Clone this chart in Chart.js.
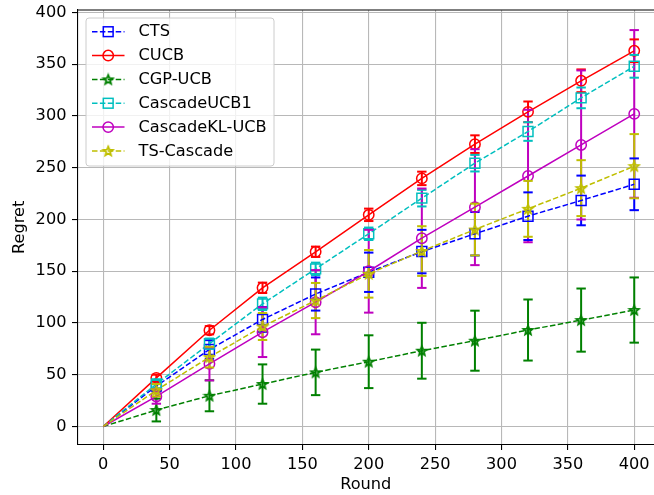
<!DOCTYPE html>
<html><head><meta charset="utf-8">
<script src="https://cdn.jsdelivr.net/npm/chart.js@4.4.0/dist/chart.umd.min.js"></script>
<style>html,body{margin:0;padding:0;background:#fff;overflow:hidden}#wrap{width:654px;height:495px;position:relative}</style>
</head><body><div id="wrap"><canvas id="c" width="654" height="495"></canvas></div>
<script>
// ---- data ----
const rounds = [0, 40, 80, 120, 160, 200, 240, 280, 320, 360, 400];
const xTicks = [0, 50, 100, 150, 200, 250, 300, 350, 400];
const yTicks = [0, 50, 100, 150, 200, 250, 300, 350, 400];
const seriesNames = ['CTS', 'CUCB', 'CGP-UCB', 'CascadeUCB1', 'CascadeKL-UCB', 'TS-Cascade'];

const ctsMean   = [0, 39, 74.4, 103.4, 128, 149, 169, 186.2, 203.2, 218.4, 234];
const ctsErr    = [0, 5, 9, 12, 16, 19, 21, 21, 23, 24, 25];
const cucbMean  = [0, 47, 93, 134, 168.8, 204.5, 239.7, 272.8, 304, 334, 363];
const cucbErr   = [0, 3, 4, 5, 5, 6, 6.5, 8.5, 10, 11, 11];
const cgpMean   = [0, 15.9, 29.7, 41, 52.3, 62.6, 73.2, 82.9, 93.2, 102.8, 112.5];
const cgpErr    = [0, 11, 15, 19, 22, 25.5, 27, 29, 29.5, 30.5, 31.5];
const ucb1Mean  = [0, 41, 80, 118.5, 152.3, 186.2, 220.6, 254.4, 285, 317.5, 348];
const ucb1Err   = [0, 4, 5, 6, 6, 6, 8, 8, 9, 10, 11];
const klMean    = [0, 29, 60.5, 91.1, 120.1, 150, 181.9, 211.9, 242, 272, 302];
const klErr     = [0, 7, 16, 24, 31, 40, 48, 56, 64, 72, 81];
const tsMean    = [0, 35, 67, 96.6, 121.7, 147.5, 169.5, 190.3, 210.3, 230.3, 251.5];
const tsErr     = [0, 6, 10, 13, 17, 23, 24, 25, 27, 27, 31];

// ---- styles ----
const FONT = 'DejaVu Sans';
const FS = 16.2;
const DASH = [5.5, 2.4];

function makeStar(color) {
  const c = document.createElement('canvas');
  c.width = 14; c.height = 14;
  const g = c.getContext('2d');
  g.strokeStyle = color; g.lineWidth = 1.8; g.lineJoin = 'miter';
  g.beginPath();
  const R = 4.8, r = 2.1;
  for (let i = 0; i < 10; i++) {
    const a = -Math.PI / 2 + i * Math.PI / 5;
    const rr = i % 2 === 0 ? R : r;
    const px = 7 + rr * Math.cos(a), py = 7.4 + rr * Math.sin(a);
    if (i === 0) g.moveTo(px, py); else g.lineTo(px, py);
  }
  g.closePath(); g.stroke();
  return c;
}

const specs = [
  {mean: ctsMean,  err: ctsErr,  color: '#0000ff', dash: true,  marker: 'rect'},
  {mean: cucbMean, err: cucbErr, color: '#ff0000', dash: false, marker: 'circle'},
  {mean: cgpMean,  err: cgpErr,  color: '#008000', dash: true,  marker: 'star'},
  {mean: ucb1Mean, err: ucb1Err, color: '#00bfbf', dash: true,  marker: 'rect'},
  {mean: klMean,   err: klErr,   color: '#bf00bf', dash: false, marker: 'circle'},
  {mean: tsMean,   err: tsErr,   color: '#bfbf00', dash: true,  marker: 'star'}
];

const datasets = specs.map((s, k) => {
  const style = s.marker === 'star' ? makeStar(s.color) : s.marker;
  const r = s.marker === 'rect' ? 7 : 5.2;
  return {
    label: seriesNames[k],
    data: rounds.map((x, i) => ({x: x, y: s.mean[i]})),
    errors: s.err,
    borderColor: s.color,
    backgroundColor: 'transparent',
    borderWidth: 1.5,
    borderDash: s.dash ? DASH : [],
    pointStyle: style,
    markerType: s.marker,
    pointRadius: rounds.map(x => x === 0 ? 0 : r),
    pointBorderColor: s.color,
    pointBackgroundColor: 'rgba(0,0,0,0)',
    pointBorderWidth: 1.5,
    tension: 0,
    fill: false,
    order: specs.length - k
  };
});

const errorBarPlugin = {
  id: 'errbars',
  beforeDatasetsDraw(chart) {
    const ctx = chart.ctx, xs = chart.scales.x, ys = chart.scales.y, a = chart.chartArea;
    ctx.save();
    ctx.beginPath(); ctx.rect(a.left, a.top, a.right - a.left, a.bottom - a.top); ctx.clip();
    ctx.setLineDash([]); ctx.lineWidth = 2;
    chart.data.datasets.forEach(ds => {
      ctx.strokeStyle = ds.borderColor;
      ds.data.forEach((p, i) => {
        const e = ds.errors[i]; if (!e) return;
        const x = xs.getPixelForValue(p.x);
        ctx.beginPath();
        ctx.moveTo(x, ys.getPixelForValue(p.y - e));
        ctx.lineTo(x, ys.getPixelForValue(p.y + e));
        ctx.stroke();
      });
    });
    ctx.restore();
  },
  afterDatasetDraw(chart, args) {
    const ds = chart.data.datasets[args.index];
    const ctx = chart.ctx, xs = chart.scales.x, ys = chart.scales.y;
    ctx.save(); ctx.setLineDash([]); ctx.lineWidth = 2; ctx.strokeStyle = ds.borderColor;
    ds.data.forEach((p, i) => {
      const e = ds.errors[i]; if (!e) return;
      const x = xs.getPixelForValue(p.x);
      [p.y - e, p.y + e].forEach(v => {
        const y = ys.getPixelForValue(v);
        ctx.beginPath(); ctx.moveTo(x - 4.7, y); ctx.lineTo(x + 4.7, y); ctx.stroke();
      });
    });
    ctx.restore();
  }
};

function drawMarker(ctx, ds, x, y) {
  ctx.save(); ctx.setLineDash([]); ctx.strokeStyle = ds.borderColor; ctx.lineWidth = 1.5;
  if (ds.markerType === 'star') {
    ctx.drawImage(ds.pointStyle, x - 7, y - 7);
  } else if (ds.markerType === 'rect') {
    ctx.strokeRect(x - 4.9, y - 4.9, 9.8, 9.8);
  } else {
    ctx.beginPath(); ctx.arc(x, y, 5.2, 0, Math.PI * 2); ctx.stroke();
  }
  ctx.restore();
}

const frameLegendPlugin = {
  id: 'frameLegend',
  afterDraw(chart) {
    const ctx = chart.ctx, a = chart.chartArea;
    ctx.save();
    ctx.strokeStyle = '#000'; ctx.lineWidth = 1.1;
    ctx.beginPath(); ctx.moveTo(a.left, a.top); ctx.lineTo(a.right, a.top); ctx.stroke();
    const bx = 86, by = 18, bw = 188, bh = 148, rad = 3;
    ctx.fillStyle = 'rgba(255,255,255,0.8)';
    ctx.strokeStyle = '#cccccc'; ctx.lineWidth = 1;
    ctx.beginPath();
    ctx.moveTo(bx + rad, by); ctx.lineTo(bx + bw - rad, by); ctx.arcTo(bx + bw, by, bx + bw, by + rad, rad);
    ctx.lineTo(bx + bw, by + bh - rad); ctx.arcTo(bx + bw, by + bh, bx + bw - rad, by + bh, rad);
    ctx.lineTo(bx + rad, by + bh); ctx.arcTo(bx, by + bh, bx, by + bh - rad, rad);
    ctx.lineTo(bx, by + rad); ctx.arcTo(bx, by, bx + rad, by, rad);
    ctx.closePath(); ctx.fill(); ctx.stroke();
    ctx.font = FS + 'px "' + FONT + '"';
    ctx.textBaseline = 'middle'; ctx.textAlign = 'left'; ctx.fillStyle = '#000';
    chart.data.datasets.forEach((ds, k) => {
      const y = 31.7 + k * 23.85;
      ctx.save();
      ctx.strokeStyle = ds.borderColor; ctx.lineWidth = 1.5;
      ctx.setLineDash(ds.borderDash || []);
      ctx.beginPath(); ctx.moveTo(92, y); ctx.lineTo(124.5, y); ctx.stroke();
      ctx.restore();
      drawMarker(ctx, ds, 108.2, y);
      ctx.fillStyle = '#000';
      ctx.fillText(ds.label, 138.5, y + 0.5);
    });
    ctx.restore();
  }
};

const gridCfg = {color: '#b8b8b8', lineWidth: 1.1, tickColor: '#000', tickLength: 5.5, drawTicks: true};

new Chart(document.getElementById('c'), {
  type: 'line',
  data: {datasets: datasets},
  options: {
    responsive: false,
    animation: false,
    devicePixelRatio: 1,
    layout: {autoPadding: false, padding: {top: 10, left: 0, right: 0, bottom: 0}},
    plugins: {legend: {display: false}, tooltip: {enabled: false}},
    scales: {
      x: {
        type: 'linear', min: -19.4, max: 414.9,
        grid: gridCfg,
        border: {display: true, color: '#000', width: 1.1},
        ticks: {color: '#000', font: {family: FONT, size: FS}, padding: 5, maxRotation: 0},
        afterBuildTicks: s => { s.ticks = xTicks.map(v => ({value: v})); },
        afterFit: s => { s.height = 50.5; s.paddingLeft = 0; s.paddingRight = 0; },
        title: {display: true, text: 'Round', color: '#000', font: {family: FONT, size: FS}, padding: {top: 0, bottom: 0}}
      },
      y: {
        type: 'linear', min: -17.4, max: 402.4,
        grid: gridCfg,
        border: {display: true, color: '#000', width: 1.1},
        ticks: {color: '#000', font: {family: FONT, size: FS}, padding: 5.5},
        afterBuildTicks: s => { s.ticks = yTicks.map(v => ({value: v})); },
        afterFit: s => { s.width = 77.5; s.paddingTop = 0; s.paddingBottom = 0; },
        title: {display: true, text: 'Regret', color: '#000', font: {family: FONT, size: FS}, padding: {top: 10.5, bottom: 0}}
      }
    }
  },
  plugins: [errorBarPlugin, frameLegendPlugin]
});
</script>
</body></html>
